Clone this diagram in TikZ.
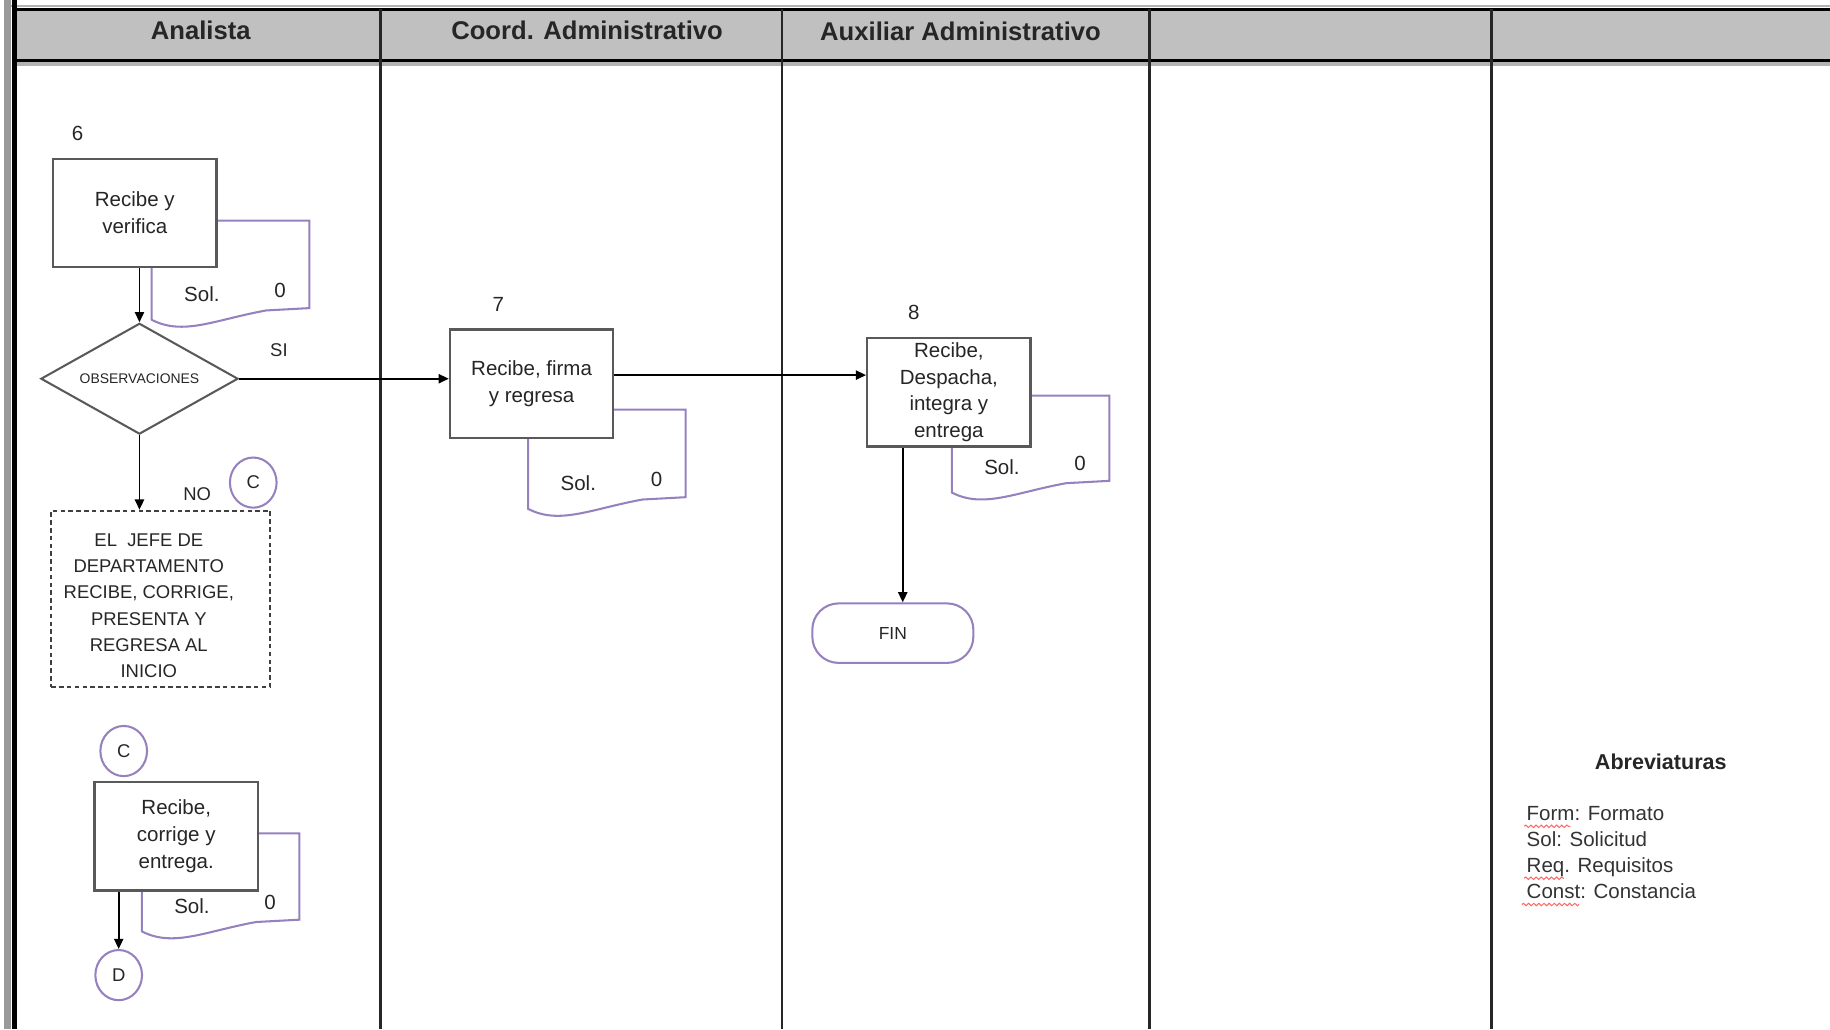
\documentclass[tikz,border=0pt]{standalone}
\usepackage{fontspec}
\setmainfont{Liberation Sans}
\usepackage{tikz}
\usetikzlibrary{arrows.meta}
\usetikzlibrary{positioning}
\usetikzlibrary{shapes.geometric}
\usetikzlibrary{decorations.pathmorphing}
\definecolor{lila}{RGB}{150,128,190}
\definecolor{encabezado}{RGB}{192,192,192}
\newcommand{\tam}[2]{\fontsize{#1}{#2}\selectfont}
\newcommand{\hojasol}[4]{%
  \draw[hoja] (#2,#3) -- ({#2+135},#3) -- ({#2+135},#4) -- ({#2+98},{#4+2})
    .. controls ({#2+54},{#4+10}) and ({#2+27},{#4+24}) .. (#2,{#4+10}) -- cycle;
  \node[texto] (#1sol) at ({#2+43},{#4-12}) {Sol.};
  \node[texto] (#1cero) at ({#2+110},{#4-15}) {0};
}

\begin{document}
\begin{tikzpicture}[x=0.02cm, y=-0.02cm,
    texto/.style={inner sep=1pt, font=\tam{10}{13}, text=black!85},
    paso/.style={draw=black!65, line width=1.1pt, fill=white, minimum width=2.8cm,
      minimum height=1.86cm, align=center, inner sep=1pt, font=\tam{10}{13}, text=black!85},
    decision/.style={diamond, shape aspect=1.78, draw=black!65, line width=1pt, fill=white,
      minimum width=3.38cm, minimum height=1.9cm, inner sep=0pt, font=\tam{6.8}{8}, text=black!85},
    jefebox/.style={draw=black!75, dash pattern=on 2.2pt off 1.6pt, line width=0.9pt,
      minimum width=3.75cm, minimum height=3.02cm},
    jefetexto/.style={align=center, inner sep=0pt, font=\tam{9}{12.7}, text=black!85},
    conector/.style={ellipse, draw=lila, line width=1pt, minimum width=0.8cm,
      minimum height=0.86cm, inner sep=0pt, font=\tam{9}{10}, text=black!85},
    terminal/.style={rectangle, rounded corners=0.45cm, draw=lila, line width=1pt,
      minimum width=2.76cm, minimum height=1.02cm, font=\tam{8.5}{10}, text=black!85},
    hoja/.style={draw=lila, line width=1pt, fill=white},
    flecha/.style={draw=black, line width=0.85pt, -{Triangle[length=5pt, width=4.5pt]}},
    carril/.style={draw=black!85, line width=1.4pt},
    titulo/.style={font=\bfseries\tam{12.5}{14}, text=black!85},
    subrayado/.style={red!60, line width=0.5pt, decorate,
      decoration={snake, amplitude=0.6pt, segment length=2.5pt}}]
      \useasboundingbox (0,0) rectangle (1568,881.7);
      \fill[black!40] (3,0) rectangle (9,882);
      \fill[black!30] (9,4.3) rectangle (1568,6.2);
      \fill[encabezado] (12,8) rectangle (1568,52);
      \fill[black!30] (12,53.5) rectangle (1568,56.5);
      \draw[line width=1.7pt] (10,8.2) -- (1568,8.2);
      \draw[line width=1.7pt] (12,52) -- (1568,52);
      \draw[line width=2.4pt] (12.3,0) -- (12.3,882);
      \foreach \x in {326,670,985,1278}
        \draw[carril] (\x,8) -- (\x,882);

      \node[titulo] (analista) at (172,26) {Analista};
      \node[titulo] (coord) at (503,26) {Coord. Administrativo};
      \node[titulo] (auxiliar) at (823,27) {Auxiliar Administrativo};

      \hojasol{hseis}{130}{189}{264}
      \hojasol{hsiete}{452.5}{351}{426}
      \hojasol{hocho}{815.5}{339}{412}
      \hojasol{hnueve}{121.5}{714}{788}

      \node[texto] (nseis) at (66.5,114) {6};
      \node[paso] (recibe) at (115.5,182.5) {Recibe y\\verifica};
      \node[decision] (obs) at (119.5,324.5) {OBSERVACIONES};
      \node[texto, font=\tam{9}{10}] (si) at (239,300) {SI};
      \node[texto, font=\tam{9}{10}] (no) at (169,423) {NO};
      \node[conector] (cuno) at (217,413.5) {C};
      \node[jefebox] (jefe) at (137.75,513) {};
      \node[jefetexto] (jefelin) at (127.5,519) {EL\ \ JEFE DE\\DEPARTAMENTO\\RECIBE, CORRIGE,\\PRESENTA Y\\REGRESA AL\\INICIO};
      \node[conector] (cdos) at (106,643.5) {C};
      \node[paso] (corrige) at (151,716.5) {Recibe,\\corrige y\\entrega.};
      \node[conector] (d) at (101.7,835.5) {D};

      \node[texto] (nsiete) at (427,260.5) {7};
      \node[paso] (firma) at (455.5,328.75) {Recibe, firma\\y regresa};

      \node[texto] (nocho) at (783,268) {8};
      \node[paso] (despacha) at (813,336) {Recibe,\\Despacha,\\integra y\\entrega};
      \node[terminal] (fin) at (765,542.5) {FIN};

      \coordinate (fila) at (0,321.4);
      \coordinate (bajada) at (773.5,0);
      \draw[flecha] (recibe.south -| obs.north) -- (obs.north);
      \draw[flecha] (obs.east) -- (obs.east -| firma.west);
      \draw[flecha] (obs.south) -- (obs.south |- jefe.north);
      \draw[flecha] (firma.east |- fila) -- (despacha.west |- fila);
      \draw[flecha] (despacha.south -| bajada) -- (fin.north -| bajada);
      \draw[flecha] (corrige.south -| d.north) -- (d.north);

      \node[titulo, font=\bfseries\tam{10.5}{12}] (abrev) at (1423,653) {Abreviaturas};
      \foreach \y/\lin in {697/Form: Formato, 719/Sol: Solicitud, 743/Req. Requisitos, 764/Const: Constancia}
        \node[texto, anchor=west, text=black!80] (ab\y) at (1306,\y) {\lin};
      \draw[subrayado] (1306,708) -- (1345.5,708);
      \draw[subrayado] (1306,752.5) -- (1340,752.5);
      \draw[subrayado] (1304,775) -- (1353,775);
    \end{tikzpicture}
\end{document}
